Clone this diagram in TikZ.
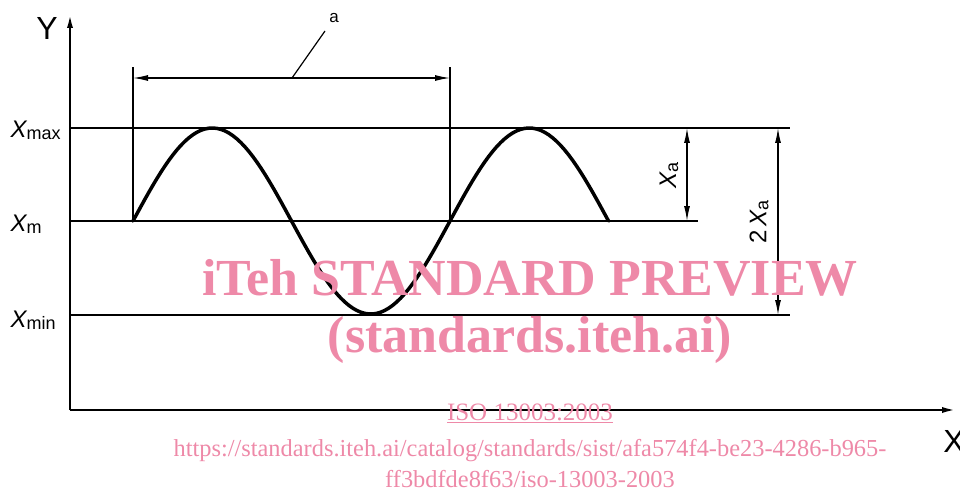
\documentclass[tikz,border=0pt]{standalone}
\usepackage{fontspec}
\setmainfont{Liberation Sans}
\newfontfamily\wmfont{Liberation Serif}
\usetikzlibrary{arrows.meta}
\definecolor{wmpink}{RGB}{238,137,168}
\newcommand{\isolbl}[2]{{\fontsize{24}{24}\selectfont\itshape #1}{\fontsize{18}{18}\selectfont\raisebox{-0.2ex}{#2}}}
\tikzset{
	thinline/.style={line width=1.2pt},
	axisline/.style={line width=2.6pt, -{Latex[length=16pt,width=6pt]}},
	dimline/.style={line width=1.2pt, {Latex[length=15pt,width=6pt]}-{Latex[length=15pt,width=6pt]}},
	wave/.style={line width=3.5pt, line cap=round, line join=round},
	watermark/.style={text=wmpink, font=\wmfont, align=center}
}
\begin{document}
\begin{tikzpicture}[x=1pt,y=1pt]
	\useasboundingbox (0,0) rectangle (960,496);
	% axes
	\coordinate (O) at (70,86);
	\coordinate (ytip) at (70,484);
	\coordinate (xtip) at (958,86);
	\draw[axisline] (O) -- (ytip);
	\draw[axisline] (O) -- (xtip);
	\node[font=\fontsize{32}{32}\selectfont] (ylab) at (47,468) {Y};
	\node[font=\fontsize{32}{32}\selectfont] (xlab) at (954,55) {X};
	% levels
	\coordinate (maxL) at (70,368);
	\coordinate (maxR) at (790,368);
	\coordinate (midL) at (70,275);
	\coordinate (midR) at (698,275);
	\coordinate (minL) at (70,181);
	\coordinate (minR) at (790,181);
	\draw[thinline] (maxL) -- (maxR);
	\draw[thinline] (midL) -- (midR);
	\draw[thinline] (minL) -- (minR);
	\node[anchor=west] (xmax) at (7,366) {\isolbl{X}{max}};
	\node[anchor=west] (xm) at (7,272) {\isolbl{X}{m}};
	\node[anchor=west] (xmin) at (7,176) {\isolbl{X}{min}};
	% signal
	\draw[wave] plot[domain=0:540, samples=120] ({133+0.88056*\x},{275+93*sin(\x)});
	% period
	\coordinate (pA) at (133,275);
	\coordinate (pAtop) at (133,429);
	\coordinate (pB) at (450,275);
	\coordinate (pBtop) at (450,429);
	\draw[thinline] (pA) -- (pAtop);
	\draw[thinline] (pB) -- (pBtop);
	\coordinate (arrA) at (133,418);
	\coordinate (arrB) at (450,418);
	\draw[dimline] (arrA) -- (arrB);
	\coordinate (lead) at (292,418);
	\coordinate (leadend) at (325,465);
	\draw[thinline] (lead) -- (leadend);
	\node[font=\fontsize{17}{17}\selectfont] (alab) at (334,478) {a};
	% amplitude
	\coordinate (aTop) at (687,368);
	\coordinate (aBot) at (687,275);
	\draw[dimline] (aTop) -- (aBot);
	\node[rotate=90] (xalab) at (669,321) {\isolbl{X}{a}};
	\coordinate (bTop) at (778,368);
	\coordinate (bBot) at (778,181);
	\draw[dimline] (bTop) -- (bBot);
	\node[rotate=90] (twoxa) at (759,274) {{\fontsize{24}{24}\selectfont 2\,}\isolbl{X}{a}};
	% watermark
	\node[watermark, font=\wmfont\bfseries\fontsize{52}{52}\selectfont] (wm1) at (530,218) {iTeh STANDARD PREVIEW};
	\node[watermark, font=\wmfont\bfseries\fontsize{52}{52}\selectfont] (wm2) at (530,156) {(standards.iteh.ai)};
	\node[watermark, font=\wmfont\fontsize{25}{25}\selectfont] (wm3) at (530,83) {\underline{ISO 13003:2003}};
	\node[watermark, font=\wmfont\fontsize{24.4}{31}\selectfont] (wm4) at (530,32) {https://standards.iteh.ai/catalog/standards/sist/afa574f4-be23-4286-b965-\\ff3bdfde8f63/iso-13003-2003};
\end{tikzpicture}
\end{document}
